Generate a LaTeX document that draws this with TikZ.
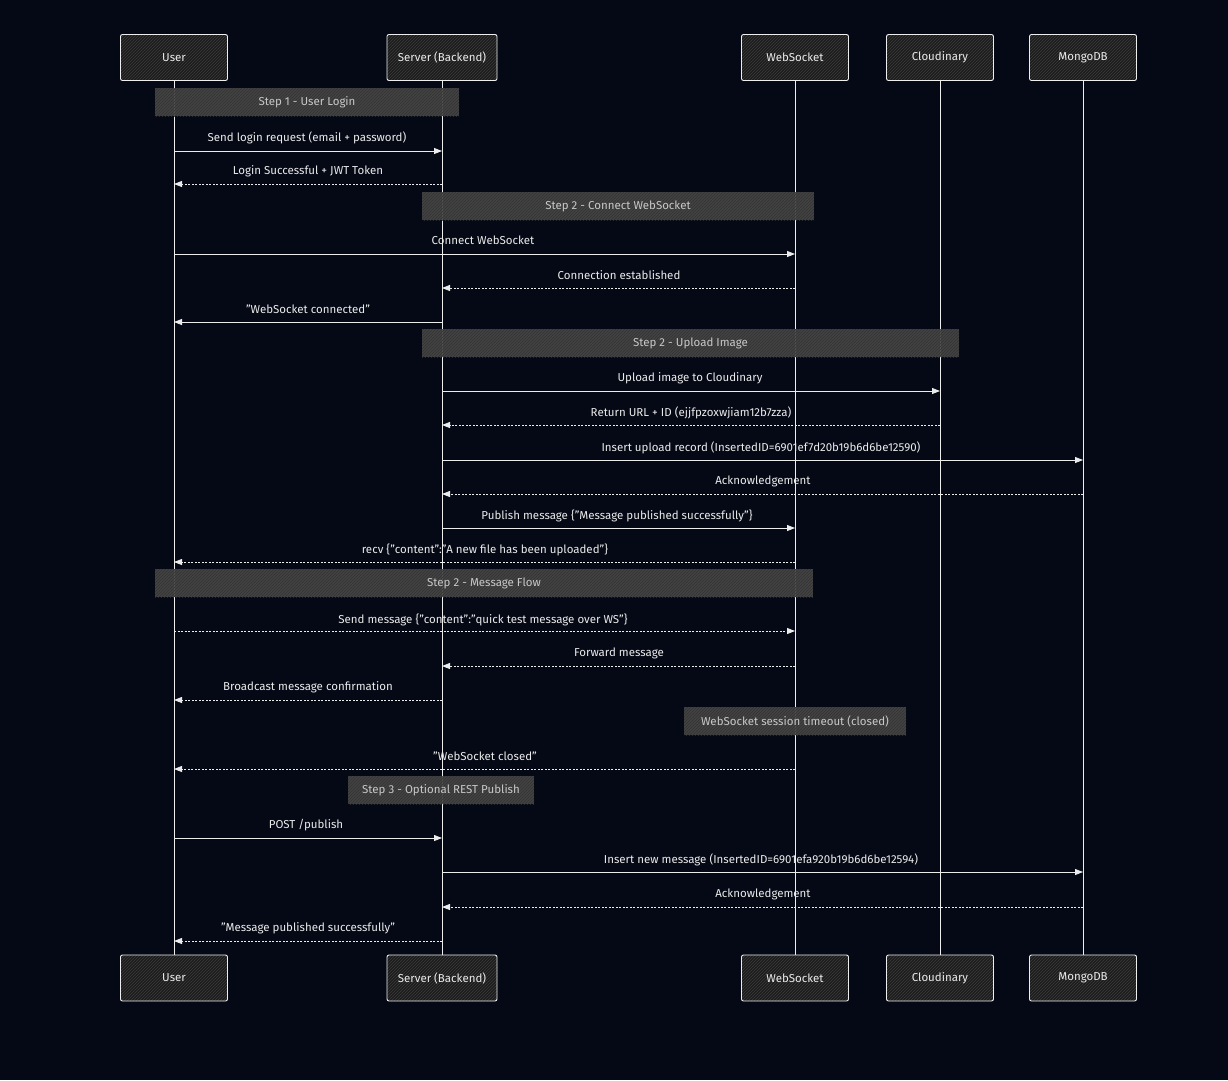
\documentclass[tikz,border=0pt]{standalone}
\usepackage{fontspec}
\setmainfont{Fira Sans}
\usetikzlibrary{arrows.meta,patterns}
\definecolor{bg}{HTML}{050915}
\definecolor{ink}{HTML}{EBEBEB}
\definecolor{boxfill}{HTML}{1C1C1C}
\definecolor{stepfill}{HTML}{484848}
\definecolor{steptext}{HTML}{C8C8C8}
\tikzset{
  actor/.style={draw=ink!85, line width=0.9pt, rounded corners=2pt,
    minimum width=107pt, minimum height=46pt, text=ink, inner sep=0pt,
    font=\fontsize{11.5}{13}\selectfont,
    preaction={fill=boxfill}, pattern=north east lines, pattern color=white!14!boxfill},
  stepbox/.style={preaction={fill=stepfill, fill opacity=0.93}, pattern=north east lines,
    pattern color=black!30!stepfill, text=steptext, inner sep=0pt, minimum height=28pt,
    font=\fontsize{11.5}{13}\selectfont},
  life/.style={draw=ink!85, line width=0.8pt},
  msg/.style={draw=ink!95, line width=0.8pt, -{Triangle[length=8pt,width=6pt]}},
  reply/.style={draw=ink!95, line width=0.8pt, dash pattern=on 2pt off 1.5pt,
    -{Triangle[length=8pt,width=6pt]}},
  lbl/.style={text=ink, inner sep=1pt, font=\fontsize{11.5}{13}\selectfont, yshift=-0.5pt},
}
\begin{document}
\begin{tikzpicture}[x=1pt,y=-1pt]
\useasboundingbox[fill=bg] (0,0) rectangle (1228,1080);
% actors top
\node[actor] (U) at (174,57.5) {User};
\node[actor, minimum width=110pt] (S) at (442,57.5) {Server (Backend)};
\node[actor] (W) at (795,57.5) {WebSocket};
\node[actor] (C) at (940,57.5) {Cloudinary};
\node[actor] (M) at (1083,57.5) {MongoDB};
% actors bottom
\node[actor] (U2) at (174,978) {User};
\node[actor, minimum width=110pt] (S2) at (442,978) {Server (Backend)};
\node[actor] (W2) at (795,978) {WebSocket};
\node[actor] (C2) at (940,978) {Cloudinary};
\node[actor] (M2) at (1083,978) {MongoDB};
% lifelines
\draw[life] (U) -- (U2);
\draw[life] (S) -- (S2);
\draw[life] (W) -- (W2);
\draw[life] (C) -- (C2);
\draw[life] (M) -- (M2);
% step boxes
\node[stepbox, minimum width=304pt] (st1) at (307,102) {Step 1 - User Login};
\node[stepbox, minimum width=392pt] (st2) at (618,206) {Step 2 - Connect WebSocket};
\node[stepbox, minimum width=537pt] (st3) at (690.5,343) {Step 2 - Upload Image};
\node[stepbox, minimum width=658pt] (st4) at (484,583) {Step 2 - Message Flow};
\node[stepbox, minimum width=222pt] (st5) at (795,721) {WebSocket session timeout (closed)};
\node[stepbox, minimum width=186pt] (st6) at (441,790) {Step 3 - Optional REST Publish};
% messages
\draw[msg] (U |- 0,151) -- (S |- 0,151);
\node[lbl] (l1) at (307,137) {Send login request (email + password)};
\draw[reply] (S |- 0,184) -- (U |- 0,184);
\node[lbl] (l2) at (308,171) {Login Successful + JWT Token};
\draw[msg] (U |- 0,254) -- (W |- 0,254);
\node[lbl] (l3) at (483,240) {Connect WebSocket};
\draw[reply] (W |- 0,288) -- (S |- 0,288);
\node[lbl] (l4) at (619,275) {Connection established};
\draw[msg] (S |- 0,322) -- (U |- 0,322);
\node[lbl] (l5) at (308,309) {"WebSocket connected"};
\draw[msg] (S |- 0,391) -- (C |- 0,391);
\node[lbl] (l6) at (690,378) {Upload image to Cloudinary};
\draw[reply] (C |- 0,425) -- (S |- 0,425);
\node[lbl] (l7) at (691,412) {Return URL + ID (ejjfpzoxwjiam12b7zza)};
\draw[msg] (S |- 0,460) -- (M |- 0,460);
\node[lbl] (l8) at (761,447) {Insert upload record (InsertedID=6901ef7d20b19b6d6be12590)};
\draw[reply] (M |- 0,494) -- (S |- 0,494);
\node[lbl] (l9) at (763,481) {Acknowledgement};
\draw[msg] (S |- 0,528) -- (W |- 0,528);
\node[lbl] (l10) at (617,515) {Publish message \{"Message published successfully"\}};
\draw[reply] (W |- 0,562) -- (U |- 0,562);
\node[lbl] (l11) at (485,549) {recv \{"content":"A new file has been uploaded"\}};
\draw[reply] (U |- 0,631) -- (W |- 0,631);
\node[lbl] (l12) at (483,619) {Send message \{"content":"quick test message over WS"\}};
\draw[reply] (W |- 0,666) -- (S |- 0,666);
\node[lbl] (l13) at (619,653) {Forward message};
\draw[reply] (S |- 0,700) -- (U |- 0,700);
\node[lbl] (l14) at (308,687) {Broadcast message confirmation};
\draw[reply] (W |- 0,769) -- (U |- 0,769);
\node[lbl] (l15) at (485,756) {"WebSocket closed"};
\draw[msg] (U |- 0,838) -- (S |- 0,838);
\node[lbl] (l16) at (306,825) {POST /publish};
\draw[msg] (S |- 0,872) -- (M |- 0,872);
\node[lbl] (l17) at (761,859) {Insert new message (InsertedID=6901efa920b19b6d6be12594)};
\draw[reply] (M |- 0,907) -- (S |- 0,907);
\node[lbl] (l18) at (763,894) {Acknowledgement};
\draw[reply] (S |- 0,941) -- (U |- 0,941);
\node[lbl] (l19) at (308,928) {"Message published successfully"};
\end{tikzpicture}
\end{document}
